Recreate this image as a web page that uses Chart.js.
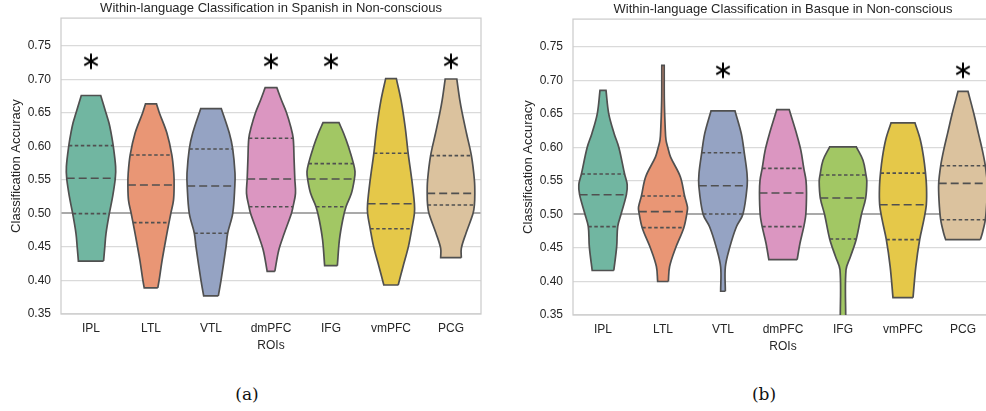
<!DOCTYPE html>
<html>
<head>
<meta charset="utf-8">
<script src="https://cdn.jsdelivr.net/npm/chart.js@4.4.0/dist/chart.umd.min.js"></script>
<style>
  html, body { margin: 0; padding: 0; background: #fff; overflow: hidden; }
  #wrap { position: relative; width: 986px; height: 411px; overflow: hidden; }
  canvas { position: absolute; }
  .cap { position: absolute; top: 384px; width: 60px; margin-left: -30px; text-align: center;
         font-family: 'DejaVu Serif', serif; font-size: 17px; color: #111; }
</style>
</head>
<body>
<div id="wrap">
  <canvas id="spanishChart" width="495" height="355" style="left:0;top:0"></canvas>
  <canvas id="basqueChart" width="495" height="355" style="left:512px;top:1px"></canvas>
  <div class="cap" style="left:247px">(a)</div>
  <div class="cap" style="left:764px">(b)</div>
</div>
<script>
// ROIs on the x axis
var categories = ['IPL', 'LTL', 'VTL', 'dmPFC', 'IFG', 'vmPFC', 'PCG'];

// violin outlines: [accuracy, half width in category units]
var spanishProfiles = [
    [[0.429, .21], [0.45, .23], [0.47, .25], [0.525, .36], [0.57, .41], [0.62, .335], [0.635, .30], [0.65, .25], [0.676, .162]],
    [[0.389, .113], [0.40, .135], [0.43, .185], [0.47, .265], [0.50, .33], [0.52, .375], [0.56, .38], [0.62, .265], [0.65, .14], [0.6634, .092]],
    [[0.377, .122], [0.40, .167], [0.45, .25], [0.50, .362], [0.56, .40], [0.62, .305], [0.6564, .172]],
    [[0.4137, .064], [0.4455, .13], [0.47, .22], [0.50, .34], [0.53, .408], [0.58, .385], [0.629, .33], [0.65, .26], [0.669, .175], [0.6878, .097]],
    [[0.4221, .106], [0.4604, .14], [0.4903, .195], [0.53, .34], [0.5624, .40], [0.60, .29], [0.6197, .21], [0.6355, .133]],
    [[0.3933, .12], [0.4206, .20], [0.4505, .29], [0.50, .39], [0.55, .347], [0.629, .236], [0.669, .167], [0.7012, .089]],
    [[0.434, .172], [0.448, .172], [0.4705, .25], [0.50, .367], [0.55, .39], [0.6197, .258], [0.65, .186], [0.669, .147], [0.7006, .097]]
];
// q1, median, q3 with the violin half width at that level
var spanishQuartiles = [
    [[0.4997, .305], [0.5525, .405], [0.6012, .37]],
    [[0.4863, .30], [0.5425, .385], [0.5873, .347]],
    [[0.4705, .278], [0.541, .397], [0.5963, .362]],
    [[0.5101, .367], [0.5515, .397], [0.6122, .37]],
    [[0.510, .25], [0.5515, .39], [0.5744, .375]],
    [[0.4773, .347], [0.5146, .39], [0.5898, .286]],
    [[0.5127, .39], [0.530, .397], [0.5863, .34]]
];
var spanishStars = [0.727, null, null, 0.727, 0.727, null, 0.727];

var basqueProfiles = [
    [[0.4164, .18], [0.452, .228], [0.5018, .305], [0.5445, .403], [0.60, .264], [0.6206, .186], [0.6506, .095], [0.6853, .05]],
    [[0.40, .089], [0.4223, .11], [0.4497, .208], [0.5108, .408], [0.556, .29], [0.586, .125], [0.60, .08], [0.6108, .05], [0.6306, .036], [0.6704, .022], [0.7225, .02]],
    [[0.3854, .039], [0.4216, .039], [0.4505, .111], [0.4813, .222], [0.5615, .40], [0.6206, .305], [0.6545, .20]],
    [[0.4327, .236], [0.457, .283], [0.50, .38], [0.551, .383], [0.596, .297], [0.6208, .225], [0.6565, .103]],
    [[0.345, .045], [0.4174, .05], [0.4372, .125], [0.4993, .305], [0.5491, .397], [0.581, .333], [0.601, .222]],
    [[0.376, .167], [0.4223, .214], [0.4918, .347], [0.5408, .392], [0.586, .342], [0.6118, .287], [0.6366, .20]],
    [[0.4625, .289], [0.472, .322], [0.5216, .40], [0.596, .322], [0.6206, .258], [0.6506, .18], [0.6838, .083]]
];
var basqueQuartiles = [
    [[0.4818, .245], [0.5295, .39], [0.5603, .36]],
    [[0.4803, .347], [0.5042, .403], [0.5275, .36]],
    [[0.5007, .333], [0.5429, .403], [0.592, .355]],
    [[0.4818, .347], [0.532, .392], [0.5687, .347]],
    [[0.4635, .222], [0.5245, .378], [0.5588, .383]],
    [[0.4625, .278], [0.5146, .389], [0.5617, .375]],
    [[0.4922, .372], [0.5464, .405], [0.5726, .372]]
];
var basqueStars = [null, null, 0.715, null, null, null, 0.715];

var yTicks = [0.35, 0.40, 0.45, 0.50, 0.55, 0.60, 0.65, 0.70, 0.75];

// styling
var violinColors = ['#71b6a1', '#e99675', '#95a3c3', '#db96c1', '#a2c764', '#e5c849', '#dbc29e'];
var edgeColor = '#505050';
var textColor = '#262626';
Chart.defaults.font.family = "'Liberation Sans', Arial, sans-serif";
Chart.defaults.font.size = 12;
Chart.defaults.color = textColor;

// asterisk used as the significance marker
var starImg = document.createElement('canvas');
starImg.width = 20;
starImg.height = 20;
(function () {
    var c = starImg.getContext('2d');
    c.strokeStyle = '#000';
    c.lineWidth = 2;
    c.lineCap = 'butt';
    [90, 30, 150].forEach(function (deg) {
        var a = deg * Math.PI / 180, r = 7.8;
        c.beginPath();
        c.moveTo(10 - r * Math.cos(a), 10 - r * Math.sin(a));
        c.lineTo(10 + r * Math.cos(a), 10 + r * Math.sin(a));
        c.stroke();
    });
})();

function buildDatasets(profiles, quartiles, stars) {
    var sets = [];
    profiles.forEach(function (profile, i) {
        var levels = profile.concat(quartiles[i]).sort(function (a, b) { return a[0] - b[0]; });
        var right = levels.map(function (p) { return {x: i + p[1], y: p[0]}; });
        var left = levels.slice().reverse().map(function (p) { return {x: i - p[1], y: p[0]}; });
        // doubled end points keep the cut ends flat
        var outline = [right[0]].concat(right, [right[right.length - 1], left[0]], left, [left[left.length - 1], right[0]]);
        sets.push({
            data: outline,
            showLine: true,
            fill: 'shape',
            backgroundColor: violinColors[i],
            borderColor: edgeColor,
            borderWidth: 1.7,
            tension: 0.35,
            pointRadius: 0,
            order: 2
        });
        quartiles[i].forEach(function (q, k) {
            sets.push({
                data: [{x: i - q[1], y: q[0]}, {x: i + q[1], y: q[0]}],
                showLine: true,
                fill: false,
                borderColor: edgeColor,
                borderWidth: 1.6,
                borderDash: k === 1 ? [8, 4] : [3.5, 2.5],
                pointRadius: 0,
                order: 1
            });
        });
    });
    var starPts = [];
    stars.forEach(function (v, i) { if (v !== null) starPts.push({x: i, y: v}); });
    sets.push({data: starPts, pointStyle: starImg, pointRadius: 10, showLine: false, order: 0});
    return sets;
}

var framePlugin = {
    id: 'frame',
    beforeDatasetsDraw: function (chart) {
        var a = chart.chartArea, ctx = chart.ctx;
        ctx.save();
        ctx.strokeStyle = '#cccccc';
        ctx.lineWidth = 1.25;
        ctx.strokeRect(a.left, a.top, a.right - a.left, a.bottom - a.top);
        ctx.restore();
    }
};

function makeConfig(title, profiles, quartiles, stars) {
    return {
        type: 'scatter',
        data: {datasets: buildDatasets(profiles, quartiles, stars)},
        plugins: [framePlugin],
        options: {
            responsive: false,
            animation: false,
            layout: {padding: {top: 1, right: 14, bottom: 0, left: 0}},
            plugins: {
                legend: {display: false},
                tooltip: {enabled: false},
                title: {
                    display: true,
                    text: title,
                    fullSize: false,
                    color: textColor,
                    font: {size: 13, weight: 'normal'},
                    padding: {top: 0, bottom: 1.5}
                }
            },
            scales: {
                x: {
                    type: 'linear',
                    min: -0.5,
                    max: 6.5,
                    afterBuildTicks: function (axis) {
                        axis.ticks = categories.map(function (_, i) { return {value: i}; });
                    },
                    afterFit: function (axis) { axis.height = 41; },
                    ticks: {
                        autoSkip: false,
                        maxRotation: 0,
                        padding: 7,
                        color: textColor,
                        callback: function (v) { return categories[v]; }
                    },
                    grid: {display: false, drawTicks: false},
                    border: {display: false},
                    title: {display: true, text: 'ROIs', color: textColor, font: {size: 12}, padding: {top: 0, bottom: 2}}
                },
                y: {
                    type: 'linear',
                    min: 0.35,
                    max: 0.7915,
                    afterBuildTicks: function (axis) {
                        axis.ticks = yTicks.map(function (v) { return {value: v}; });
                    },
                    afterFit: function (axis) { axis.width = 61; },
                    ticks: {
                        padding: 10,
                        color: textColor,
                        callback: function (v) { return v.toFixed(2); }
                    },
                    grid: {
                        drawTicks: false,
                        color: function (c) { return c.tick && Math.abs(c.tick.value - 0.5) < 1e-6 ? '#a9a9a9' : '#dadada'; },
                        lineWidth: function (c) { return c.tick && Math.abs(c.tick.value - 0.5) < 1e-6 ? 2 : 1.25; }
                    },
                    border: {display: false},
                    title: {display: true, text: 'Classification Accuracy', color: textColor, font: {size: 13}, padding: {top: 9, bottom: 0}}
                }
            }
        }
    };
}

new Chart(document.getElementById('spanishChart').getContext('2d'),
    makeConfig('Within-language Classification in Spanish in Non-conscious', spanishProfiles, spanishQuartiles, spanishStars));
new Chart(document.getElementById('basqueChart').getContext('2d'),
    makeConfig('Within-language Classification in Basque in Non-conscious', basqueProfiles, basqueQuartiles, basqueStars));
</script>
</body>
</html>
